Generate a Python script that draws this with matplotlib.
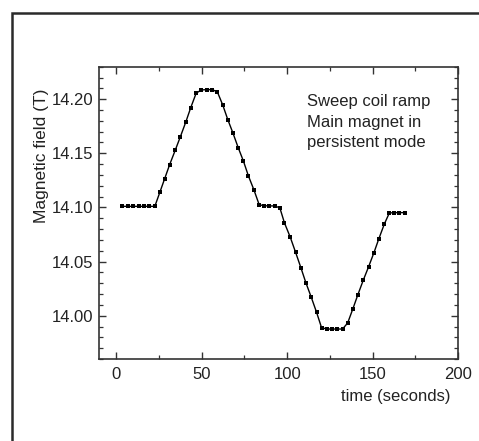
import matplotlib
matplotlib.use("Agg")
import matplotlib.pyplot as plt
from matplotlib.patches import Rectangle
from matplotlib.ticker import MultipleLocator

plt.rcParams['font.family'] = ['Liberation Sans', 'DejaVu Sans']

time_s = [3.5, 6.7, 9.8, 13.0, 16.1, 19.3, 22.5,
          25.4, 28.3, 31.2, 34.4, 37.5, 40.6, 43.5, 46.7,
          49.7, 52.8, 56.0, 59.1,
          62.3, 65.2, 68.2, 71.3, 74.4, 77.3, 80.5,
          83.6, 86.4, 89.5, 92.6, 95.7,
          98.4, 101.8, 104.9, 108.0, 110.9, 114.1, 117.2, 120.1,
          123.1, 126.2, 129.3, 132.4,
          135.4, 138.5, 141.4, 144.5, 147.7, 150.8, 153.7, 156.9, 159.8,
          162.6, 165.6, 168.9]
field_T = [14.101, 14.101, 14.101, 14.101, 14.101, 14.101, 14.101,
           14.1138, 14.1267, 14.1396, 14.1526, 14.1655, 14.1787, 14.1920, 14.2055,
           14.2085, 14.2088, 14.2088, 14.2068,
           14.1945, 14.1812, 14.1689, 14.1553, 14.1427, 14.1291, 14.1163,
           14.1025, 14.1016, 14.1014, 14.1014, 14.0996,
           14.0857, 14.0725, 14.0586, 14.0444, 14.0306, 14.0170, 14.0031, 13.9890,
           13.9877, 13.9877, 13.9877, 13.9877,
           13.9933, 14.0066, 14.0195, 14.0327, 14.0454, 14.0583, 14.0713, 14.0848, 14.0949,
           14.0952, 14.0952, 14.0952]

x_ticks = [0, 50, 100, 150, 200]
y_ticks = [14.00, 14.05, 14.10, 14.15, 14.20]
y_tick_labels = ["14.00", "14.05", "14.10", "14.15", "14.20"]

fig = plt.figure(figsize=(4.79, 4.41), dpi=100)
fig.patch.set_facecolor('white')

# outer frame
fig.patches.append(Rectangle((12 / 479, -0.2), 1.5, 1 - 13 / 441 + 0.2,
                             transform=fig.transFigure, fill=False,
                             edgecolor='#2a2a2a', linewidth=1.8))

ax = fig.add_axes([0.2073, 0.1859, 0.9562 - 0.2073, 0.8488 - 0.1859])
ax.plot(time_s, field_T, color='black', linewidth=1.0, marker='s',
        markersize=2.8, markerfacecolor='black', markeredgewidth=0)

ax.set_xlim(-10, 200)
ax.set_ylim(13.96, 14.23)
ax.set_xticks(x_ticks)
ax.set_yticks(y_ticks)
ax.set_yticklabels(y_tick_labels)
ax.xaxis.set_minor_locator(MultipleLocator(25))
ax.yaxis.set_minor_locator(MultipleLocator(0.01))

for s in ax.spines.values():
    s.set_color('#333333')
    s.set_linewidth(1.2)

ax.tick_params(which='both', direction='in', top=True, right=True,
               colors='#333333', labelcolor='#222222')
ax.tick_params(which='major', length=5, width=1.0, labelsize=12)
ax.tick_params(which='minor', length=3, width=0.9)
ax.tick_params(axis='y', which='major', pad=4.0)
ax.tick_params(axis='x', which='major', pad=6.0)

ax.text(-0.1606, 0.694, "Magnetic field (T)", rotation=90, transform=ax.transAxes,
        ha='center', va='center', fontsize=12.5, color='#222222')
ax.text(0.827, -0.127, "time (seconds)", transform=ax.transAxes,
        ha='center', va='center', fontsize=12, color='#222222')
ax.text(0.578, 0.905, "Sweep coil ramp\nMain magnet in\npersistent mode",
        transform=ax.transAxes, ha='left', va='top', fontsize=12,
        linespacing=1.45, color='#222222')

fig.savefig("out.png", dpi=100)
